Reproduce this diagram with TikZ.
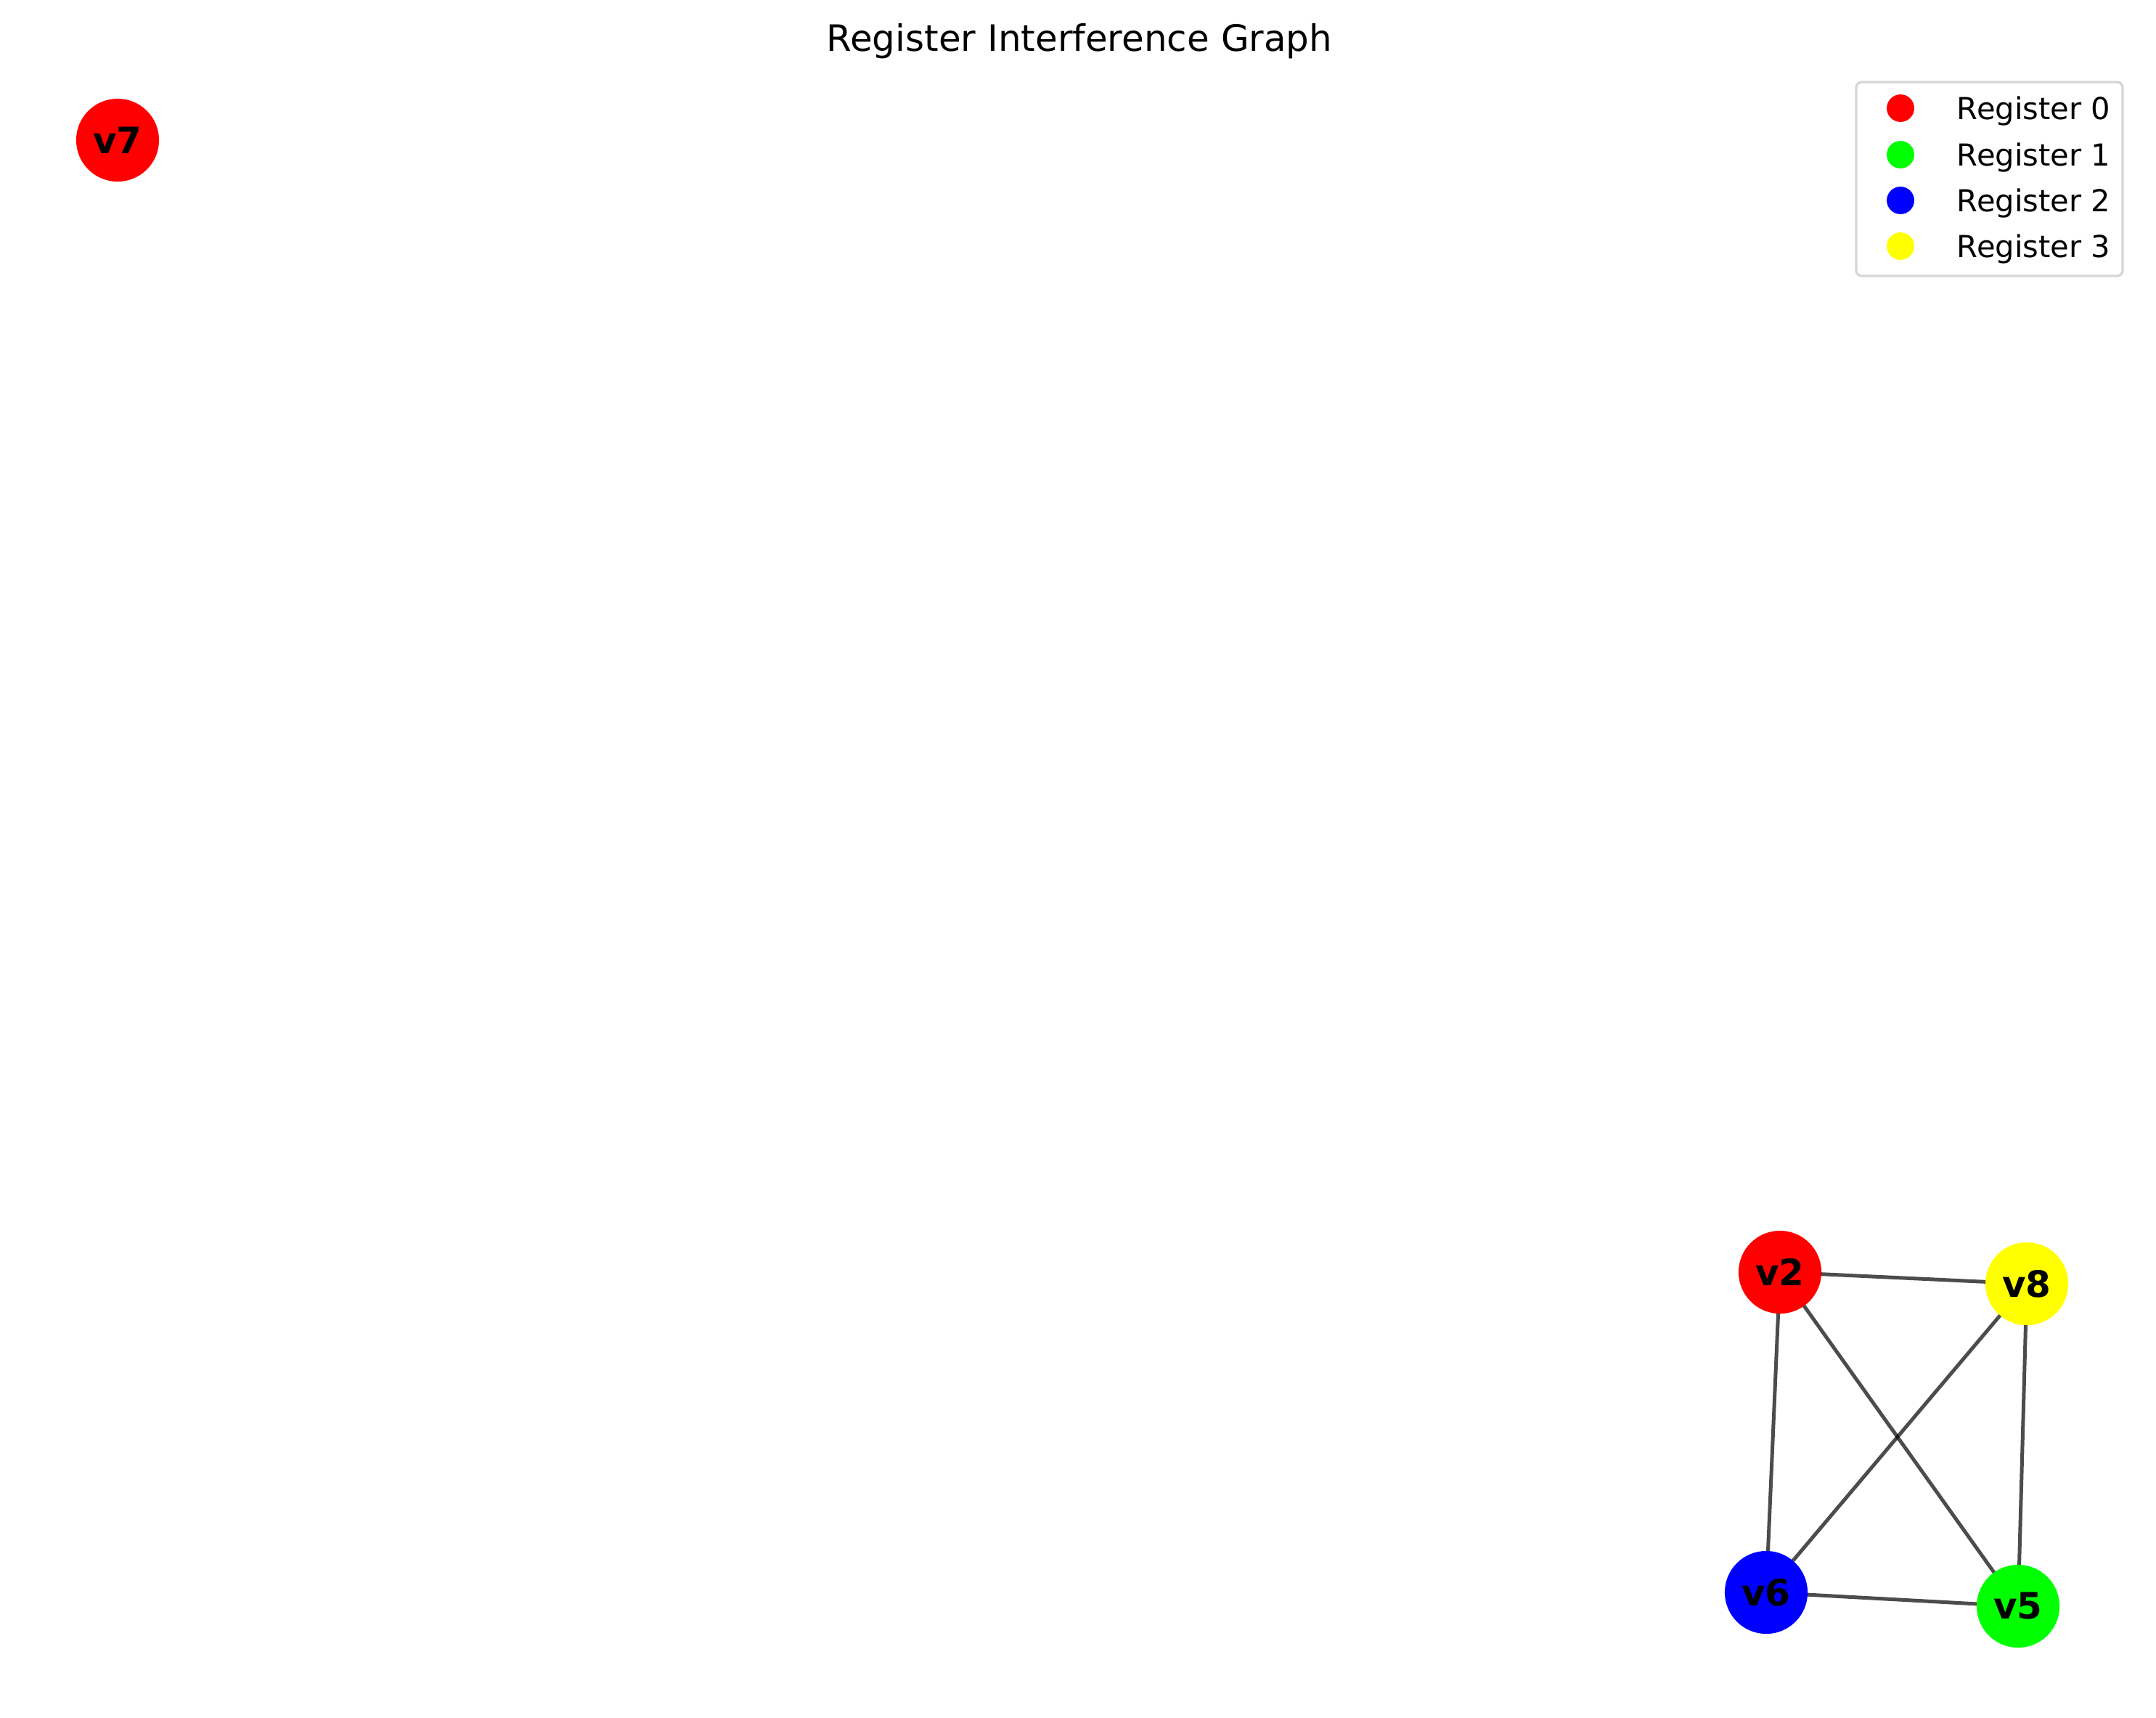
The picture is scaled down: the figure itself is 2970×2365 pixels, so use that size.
\documentclass[tikz,border=0pt]{standalone}
\usepackage{fontspec}
\setmainfont{DejaVu Sans}
\definecolor{regred}{RGB}{255,0,0}
\definecolor{reggreen}{RGB}{0,255,0}
\definecolor{regblue}{RGB}{0,0,255}
\definecolor{regyellow}{RGB}{255,255,0}
\definecolor{legframe}{RGB}{214,214,214}
\begin{document}
\begin{tikzpicture}[x=0.24pt,y=-0.24pt,
  vnode/.style={circle,minimum size=27.4pt,inner sep=0pt,outer sep=0pt,font=\fontsize{12}{14}\selectfont\bfseries,text=black},
  edge/.style={draw=black,draw opacity=0.7,line width=1.2pt},
  legmark/.style={circle,minimum size=9.1pt,inner sep=0pt},
  legtext/.style={anchor=base west,inner sep=0pt,font=\fontsize{10}{12}\selectfont},
]
\useasboundingbox[fill=white] (0,0) rectangle (2970,2365);
% title
\node[anchor=base,inner sep=0pt,font=\fontsize{12}{14}\selectfont] (title) at (1487,71) {Register Interference Graph};
% nodes
\node[vnode,fill=regred] (v7) at (162,193) {v7};
\node[vnode,fill=regred] (v2) at (2452,1752) {v2};
\node[vnode,fill=regyellow] (v8) at (2792,1768) {v8};
\node[vnode,fill=regblue] (v6) at (2433,2193) {v6};
\node[vnode,fill=reggreen] (v5) at (2780,2212) {v5};
% edges
\draw[edge] (v2) -- (v8);
\draw[edge] (v2) -- (v6);
\draw[edge] (v2) -- (v5);
\draw[edge] (v8) -- (v6);
\draw[edge] (v8) -- (v5);
\draw[edge] (v6) -- (v5);
% legend
\draw[draw=legframe,line width=0.8pt,rounded corners=1.8pt,fill=white] (2557,113) rectangle (2924,380);
\node[legmark,fill=regred] (m0) at (2618,149) {};
\node[legmark,fill=reggreen] (m1) at (2618,213) {};
\node[legmark,fill=regblue] (m2) at (2618,276) {};
\node[legmark,fill=regyellow] (m3) at (2618,339) {};
\node[legtext] (t0) at (2695,164.5) {Register 0};
\node[legtext] (t1) at (2695,228.5) {Register 1};
\node[legtext] (t2) at (2695,291.5) {Register 2};
\node[legtext] (t3) at (2695,354.5) {Register 3};
\end{tikzpicture}
\end{document}
